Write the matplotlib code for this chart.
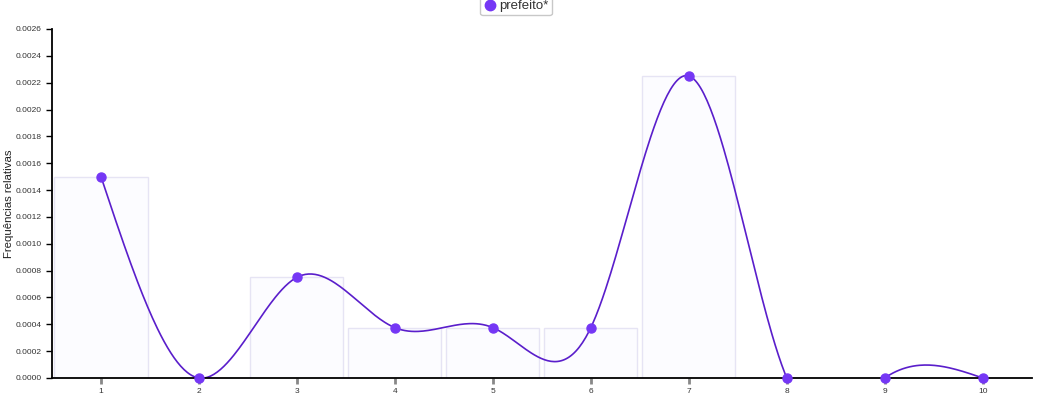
import numpy as np
import matplotlib.pyplot as plt

plt.rcParams['font.family'] = ['Liberation Sans', 'DejaVu Sans']

# chart data
categories = [1, 2, 3, 4, 5, 6, 7, 8, 9, 10]
freq = [0.0015, 0.0, 0.00075, 0.000375, 0.000375, 0.000375, 0.00225, 0.0, 0.0, 0.0]
series_label = 'prefeito*'
y_ticks = [i * 0.0002 for i in range(14)]


def natural_spline(x, y, n=60):
    """Natural cubic spline through the points (like d3.curveNatural)."""
    x = np.asarray(x, float)
    y = np.asarray(y, float)
    k = len(x)
    h = np.diff(x)
    A = np.zeros((k, k))
    b = np.zeros(k)
    A[0, 0] = A[-1, -1] = 1
    for i in range(1, k - 1):
        A[i, i - 1] = h[i - 1]
        A[i, i] = 2 * (h[i - 1] + h[i])
        A[i, i + 1] = h[i]
        b[i] = 3 * ((y[i + 1] - y[i]) / h[i] - (y[i] - y[i - 1]) / h[i - 1])
    c = np.linalg.solve(A, b)
    xs, ys = [], []
    for i in range(k - 1):
        bi = (y[i + 1] - y[i]) / h[i] - h[i] * (2 * c[i] + c[i + 1]) / 3
        di = (c[i + 1] - c[i]) / (3 * h[i])
        t = np.linspace(0, h[i], n)
        xs.append(x[i] + t)
        ys.append(y[i] + bi * t + c[i] * t ** 2 + di * t ** 3)
    return np.concatenate(xs), np.concatenate(ys)


fig = plt.figure(figsize=(10.4, 4.01), dpi=100)
ax = fig.add_axes([0.05, 0.0574, 0.942, 0.8703])

ax.bar(categories, freq, width=0.95, color='#fcfcff', edgecolor='#e6e4f4',
       linewidth=1, zorder=1)

sx, sy = natural_spline(categories, freq)
ax.plot(sx, sy, color='#5a1ecb', linewidth=1.2, zorder=2)
ax.plot(categories, freq, 'o', color='#7537f5', markersize=6.5, zorder=3,
        label=series_label, clip_on=False)

ax.set_xlim(0.5, 10.5)
ax.set_ylim(0, 0.0026)
ax.set_xticks(categories)
ax.set_xticklabels([str(c) for c in categories])
ax.set_yticks(y_ticks)
ax.set_yticklabels([f'{v:.4f}' for v in y_ticks])
ax.tick_params(axis='both', labelsize=6.0, length=4, width=1, colors='#000000',
               labelcolor='#333333')
ax.tick_params(axis='x', colors='#888888', labelcolor='#333333', width=2)

for side in ['top', 'right']:
    ax.spines[side].set_visible(False)
for side in ['left', 'bottom']:
    ax.spines[side].set_linewidth(1.3)

ax.set_ylabel('Frequências relativas', fontsize=8.2, color='#222222')
ax.yaxis.set_label_coords(-0.039, 0.5)

leg = fig.legend(loc='center', bbox_to_anchor=(0.496, 0.985), fontsize=9.5,
                 frameon=True, handletextpad=0.2, borderpad=0.25,
                 handlelength=1.0, markerscale=1.15, fancybox=True)
leg.get_frame().set_edgecolor('#bbbbbb')
for t in leg.get_texts():
    t.set_color('#333333')

plt.savefig('out.png', dpi=100)
plt.close()
